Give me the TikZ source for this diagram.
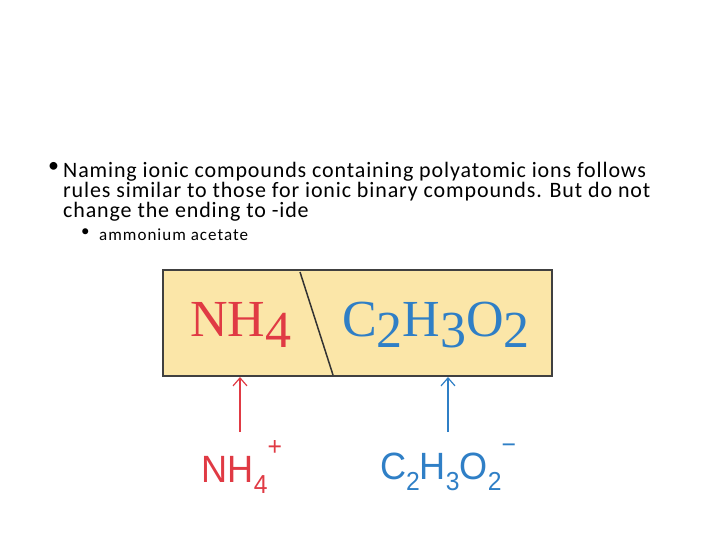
\documentclass[tikz,border=0pt]{standalone}
\usepackage{fontspec}
\setmainfont{Carlito}
\newfontfamily\serifx{Liberation Serif}
\newfontfamily\sansx{Liberation Sans}
\definecolor{rd}{HTML}{E03A44}
\definecolor{bl}{HTML}{2F7FC6}
\definecolor{bx}{HTML}{FBE6A8}
\tikzset{txt/.style={anchor=north west,inner sep=0,align=left},
arr/.style={-{Straight Barb[length=8pt,width=14pt]},line width=1.2pt}}
\usetikzlibrary{arrows.meta}
\newcommand{\ionsub}[1]{\raisebox{-0.55ex}{\fontsize{26}{26}\selectfont #1}}
\newcommand{\ionsup}[1]{\raisebox{1.3ex}{\fontsize{26}{26}\selectfont #1}}
\newcommand{\bigsub}[1]{\raisebox{-0.45ex}{#1}}
\begin{document}
\begin{tikzpicture}[x=1pt,y=-1pt]
\useasboundingbox (0,0) rectangle (720,540);
\node[txt,font=\fontsize{22}{20}\selectfont] (b1) at (48,162) {•};
\node[txt,font=\fontsize{22}{20}\selectfont\addfontfeature{LetterSpace=4}] (t1) at (63,162) {Naming ionic compounds containing polyatomic ions follows\\rules similar to those for ionic binary compounds. But do not\\change the ending to -ide};
\node[txt,font=\fontsize{17}{17}\selectfont] (b2) at (81,229) {•};
\node[txt,font=\fontsize{17}{17}\selectfont\addfontfeature{LetterSpace=6}] (t2) at (99,229) {ammonium acetate};
\node[draw=black!75,line width=2pt,fill=bx,minimum width=389pt,minimum height=106pt,inner sep=0] (box) at (357.5,323) {};
\coordinate (d1) at (300,272); \coordinate (d2) at (333,375);
\draw[line width=1.5pt,black!80] (d1)--(d2);
\node[text=rd,font=\serifx\fontsize{52}{52}\selectfont] (nh) at (241,325) {NH\bigsub{4}};
\node[text=bl,font=\serifx\fontsize{52}{52}\selectfont] (ac) at (436,325) {C\bigsub{2}H\bigsub{3}O\bigsub{2}};
\node[text=rd,font=\sansx\fontsize{38}{38}\selectfont] (nhi) at (242,467) {\scalebox{0.95}[1]{NH\ionsub{4}\ionsup{+}}};
\node[text=bl,font=\sansx\fontsize{38}{38}\selectfont] (aci) at (448,467) {\scalebox{0.95}[1]{C\ionsub{2}H\ionsub{3}O\ionsub{2}\ionsup{−}}};
\coordinate (r0) at (240,432); \coordinate (r1) at (240,377);
\coordinate (s0) at (448,432); \coordinate (s1) at (448,377);
\draw[arr,rd] (r0)--(r1);
\draw[arr,bl] (s0)--(s1);
\end{tikzpicture}
\end{document}
